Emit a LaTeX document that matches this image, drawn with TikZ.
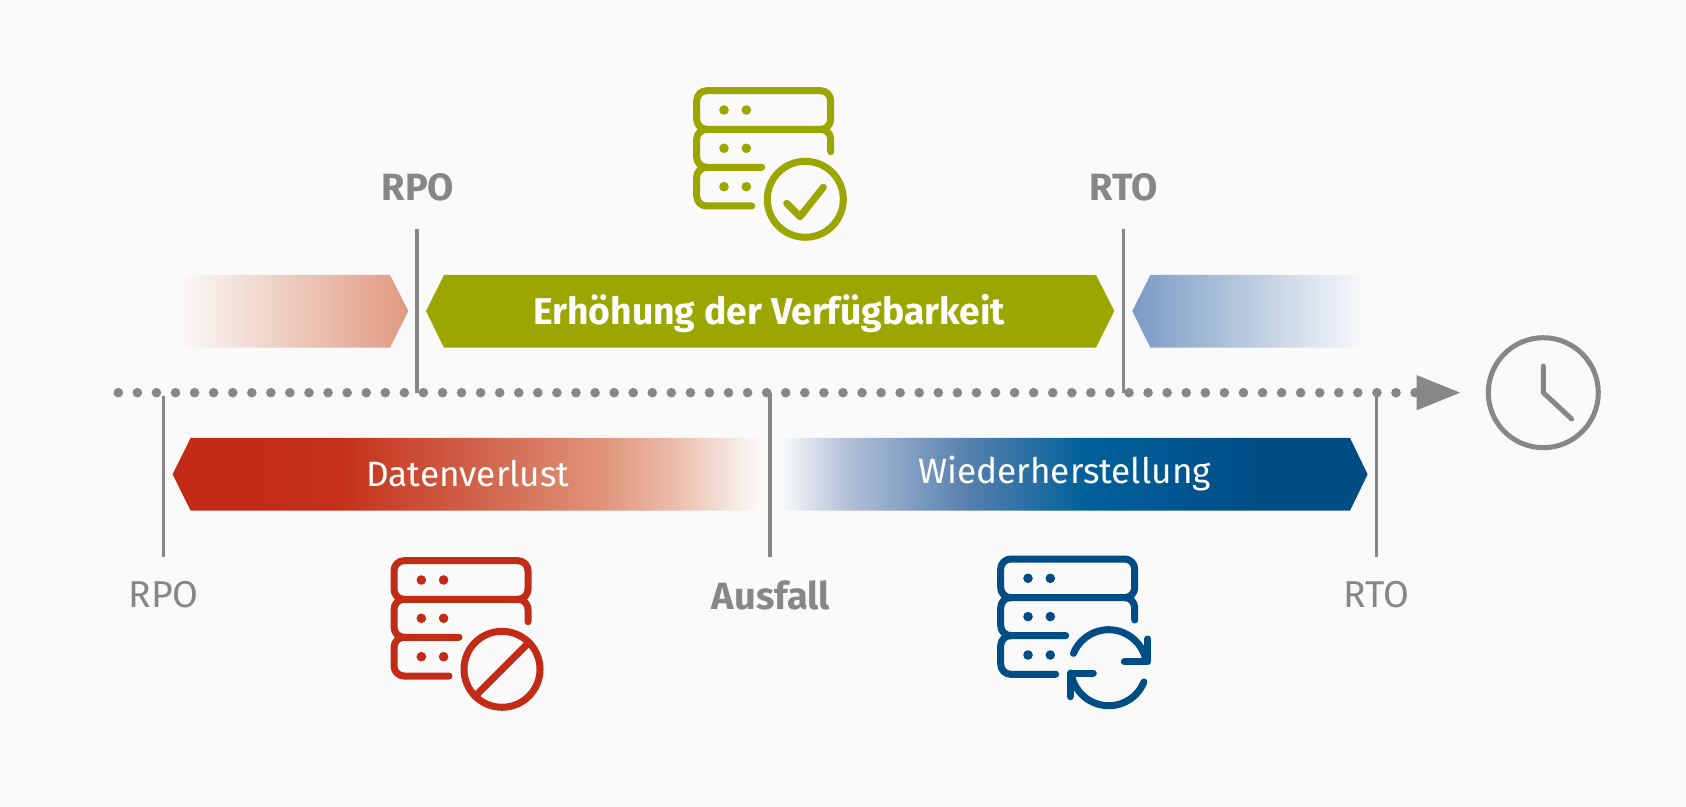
\documentclass[tikz,border=0pt]{standalone}
\usepackage{fontspec}
\setmainfont{Fira Sans}
\usepackage{xcolor}
\usetikzlibrary{arrows.meta,calc}

\definecolor{pagebg}{HTML}{FAFAFA}
\definecolor{linegray}{HTML}{878787}
\definecolor{okgreen}{HTML}{9CA600}
\definecolor{lossred}{HTML}{C22C17}
\definecolor{lossmida}{HTML}{C43019}
\definecolor{lossmidb}{HTML}{D0624A}
\definecolor{lossmidc}{HTML}{DF9178}
\definecolor{lossmidd}{HTML}{EBBDAA}
\definecolor{losspale}{HTML}{E0997F}
\definecolor{syncblue}{HTML}{004C85}
\definecolor{syncmida}{HTML}{B0BFD8}
\definecolor{syncmidb}{HTML}{5580AD}
\definecolor{syncmidc}{HTML}{00609A}
\definecolor{syncpale}{HTML}{7A9BC4}

\pgfdeclarehorizontalshading{lossfade}{100bp}{color(0bp)=(lossred); color(32bp)=(lossred);
    color(39bp)=(lossmida); color(50.8bp)=(lossmidb); color(61bp)=(lossmidc); color(67.7bp)=(lossmidd);
    color(75bp)=(pagebg); color(100bp)=(pagebg)}
\pgfdeclarehorizontalshading{syncfade}{100bp}{color(0bp)=(pagebg); color(25bp)=(pagebg);
    color(30.9bp)=(syncmida); color(41bp)=(syncmidb); color(51bp)=(syncmidc);
    color(66.2bp)=(syncblue); color(100bp)=(syncblue)}

\tikzset{
    servericon/.pic={
        \draw[iconline, rounded corners=5pt] (0,0) rectangle (134,38.6);
        \draw[iconline, rounded corners=5pt] (124,38.6) -- (134,38.6) -- (134,61);
        \draw[iconline, rounded corners=5pt] (10,38.6) -- (0,38.6) -- (0,76.6) -- (65,76.6);
        \draw[iconline, rounded corners=5pt] (10,76.6) -- (0,76.6) -- (0,115.3) -- (55,115.3);
        \foreach \rowy in {19.3,57.6,96} {
            \fill (27.3,\rowy) circle (2.4pt);
            \fill (49.6,\rowy) circle (2.4pt);
        }
    }
}

\begin{document}
\begin{tikzpicture}[x=0.5pt, y=-0.5pt,
        marker/.style={draw=linegray, line width=1.7pt},
        timeline/.style={draw=linegray, line width=4.8pt, line cap=round, dash pattern=on 0pt off 9.535pt,
            -{Triangle[length=22.5pt, width=16pt]}},
        iconline/.style={line width=3.5pt, line cap=round, line join=round},
        iconring/.style={draw, circle, line width=3.5pt, minimum size=38pt, inner sep=0pt, outer sep=0pt},
        marklabel/.style={text=linegray, font=\fontsize{18.7}{22}\selectfont},
        markhead/.style={text=linegray, font=\fontsize{19}{22}\selectfont\bfseries},
        barlabel/.style={text=white, font=\fontsize{17.6}{20}\selectfont}
    ]
        \useasboundingbox (0,0) rectangle (1686,807);
        \fill[pagebg] (0,0) rectangle (1686,807);

        % Bars above the time line
        \path[left color=pagebg, right color=losspale] (178,275) -- (390,275) -- (408.3,311) -- (390,347.7) -- (178,347.7) -- cycle;
        \fill[okgreen] (426,311) -- (444,275) -- (1096,275) -- (1114.3,311) -- (1096,347.7) -- (444,347.7) -- cycle;
        \path[left color=syncpale, right color=pagebg] (1132.3,311) -- (1150.3,275) -- (1366,275) -- (1366,347.7) -- (1150.3,347.7) -- cycle;
        \node[barlabel, font=\fontsize{18.65}{22}\selectfont\bfseries] (uptime) at (769,314) {Erhöhung der Verfügbarkeit};

        % Bars below the time line
        \path[shading=lossfade] (172.6,474.3) -- (190.6,438) -- (760,438) -- (760,510.7) -- (190.6,510.7) -- cycle;
        \path[shading=syncfade] (780,438) -- (1350,438) -- (1367.6,474.3) -- (1350,510.7) -- (780,510.7) -- cycle;
        \node[barlabel] (loss) at (468,474) {Datenverlust};
        \node[barlabel] (restore) at (1064.6,474) {Wiederherstellung};

        % Time line
        \coordinate (tlstart) at (118.3,392.7);
        \coordinate (tlend) at (1461.7,392.7);
        \draw[timeline] (tlstart) -- (tlend);

        % Markers
        \node[markhead] (rpohigh) at (418,187) {RPO};
        \node[markhead] (rtohigh) at (1123.7,187) {RTO};
        \node[marklabel] (rpolow) at (163.5,595) {RPO};
        \node[markhead] (failure) at (771,595) {Ausfall};
        \node[marklabel] (rtolow) at (1376.4,595) {RTO};

        \coordinate (rpohightop) at (416.8,229);
        \coordinate (rpohighend) at (416.8,392.7);
        \coordinate (rtohightop) at (1123.3,229);
        \coordinate (rtohighend) at (1123.3,392.7);
        \coordinate (rpolowtop) at (163.7,395.7);
        \coordinate (rpolowend) at (163.7,557);
        \coordinate (failuretop) at (770,392.7);
        \coordinate (failureend) at (770,557);
        \coordinate (rtolowtop) at (1376.7,392.7);
        \coordinate (rtolowend) at (1376.7,557);

        \draw[marker] (rpohightop) -- (rpohighend);
        \draw[marker] (rtohightop) -- (rtohighend);
        \draw[marker] (rpolowtop) -- (rpolowend);
        \draw[marker] (failuretop) -- (failureend);
        \draw[marker] (rtolowtop) -- (rtolowend);

        % Clock
        \node[draw=linegray, circle, line width=2.5pt, minimum size=55pt, inner sep=0pt, outer sep=0pt] (clock) at (1543.3,392.7) {};
        \draw[linegray, line width=2.5pt, line cap=round, line join=round] (1543.3,366) -- (clock.center) -- (1571.7,419);

        % Server with check
        \pic[color=okgreen] at (696.7,90.7) {servericon};
        \node[iconring, okgreen] (okring) at (805.3,199.3) {};
        \draw[iconline, okgreen] (786.7,203.3) -- (800,216.7) -- (823.3,187.3);

        % Server with stop sign
        \pic[color=lossred] at (394,560.7) {servericon};
        \node[iconring, lossred] (stopring) at (502,669.3) {};
        \draw[iconline, lossred] (stopring.south west) -- (stopring.north east);

        % Server with sync arrows
        \pic[color=syncblue] at (1000.7,559) {servericon};
        \coordinate (sync) at (1108.7,667.7);
        \draw[iconline, syncblue] (sync) ++(158:19pt) arc[start angle=158, end angle=10, radius=19pt];
        \draw[iconline, syncblue] (sync) ++(-22:19pt) arc[start angle=-22, end angle=-172, radius=19pt];
        \draw[iconline, syncblue] (1147.7,639) -- (1147.7,661.7) -- (1124.3,661.7);
        \draw[iconline, syncblue] (1093.3,673.3) -- (1070,673.3) -- (1070,696.7);
    \end{tikzpicture}
\end{document}
